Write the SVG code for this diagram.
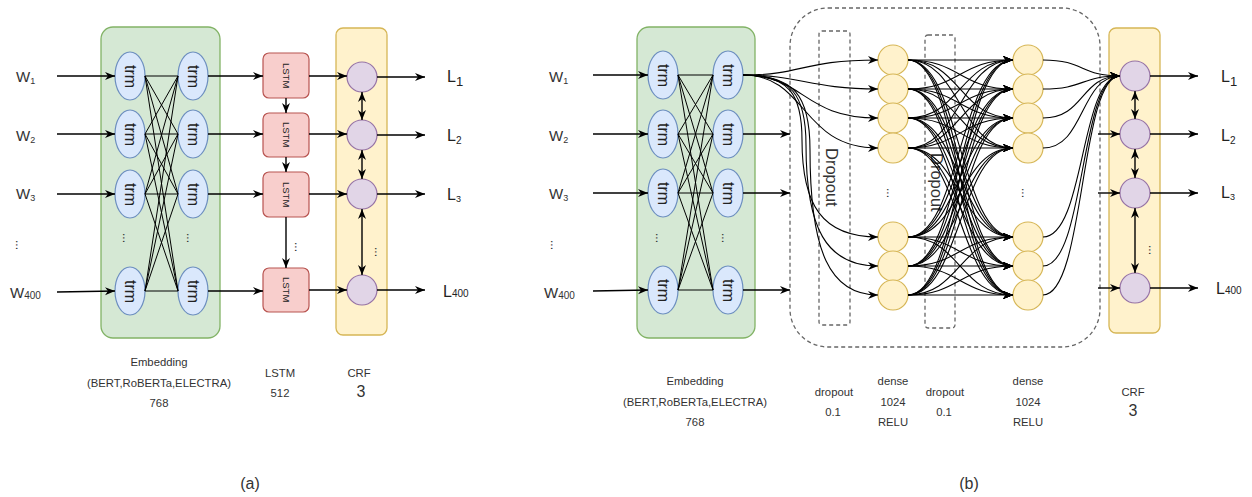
<svg xmlns="http://www.w3.org/2000/svg" width="1252" height="497" viewBox="0 0 1252 497">
<defs>
<marker id="ah" markerUnits="userSpaceOnUse" markerWidth="11" markerHeight="9" refX="10" refY="4" orient="auto-start-reverse">
<path d="M0,0 L10,4 L0,8 L3,4 z" fill="#000"/>
</marker>
<style>
text{font-family:"Liberation Sans",Arial,sans-serif;fill:#333}
.emb{fill:#d5e8d4;stroke:#82b366;stroke-width:1.3}
.trm{fill:#dae8fc;stroke:#6c8ebf;stroke-width:1.2}
.lstm{fill:#f8cecc;stroke:#b85450;stroke-width:1.2}
.crfbox{fill:#fff2cc;stroke:#d6b656;stroke-width:1.3}
.crf{fill:#e1d5e7;stroke:#9673a6;stroke-width:1.2}
.dn{fill:#fff2cc;stroke:#d6b656;stroke-width:1.2}
.dash{fill:none;stroke:#666;stroke-width:1.3;stroke-dasharray:4 3}
.a{fill:none;stroke:#000;stroke-width:1.4;marker-end:url(#ah)}
.b{fill:none;stroke:#000;stroke-width:1.4;marker-start:url(#ah);marker-end:url(#ah)}
.x{fill:none;stroke:#000;stroke-width:1}
.c{fill:none;stroke:#000;stroke-width:1.1;marker-end:url(#ah)}
.tt{font-size:16px;fill:#222}
.lt{font-size:9.5px;fill:#222}
.w{font-size:15px}
.l{font-size:16px;fill:#222}
.lab{font-size:11.3px;text-anchor:middle}
.big{font-size:16px;text-anchor:middle}
.dots{font-size:12px;fill:#333}
.drop{font-size:16.5px;fill:#333}
</style>
</defs>

<!-- ============ Panel (a) ============ -->
<g id="a-inputs">
<text class="w" x="16" y="82">W<tspan font-size="9" dy="2">1</tspan></text>
<text class="w" x="16" y="141">W<tspan font-size="9" dy="2">2</tspan></text>
<text class="w" x="16" y="199">W<tspan font-size="9" dy="2">3</tspan></text>
<text class="dots" x="0" y="0" transform="translate(16,245) rotate(90)" text-anchor="middle">...</text>
<text class="w" x="10" y="298">W<tspan font-size="10" dy="1">400</tspan></text>
</g>

<g id="a-embedding">
<rect class="emb" x="101" y="27" width="119" height="311" rx="12"/>
<ellipse class="trm" cx="130" cy="76" rx="15" ry="24"/>
<ellipse class="trm" cx="130" cy="134" rx="15" ry="24"/>
<ellipse class="trm" cx="130" cy="194" rx="15" ry="24"/>
<ellipse class="trm" cx="130" cy="291" rx="15" ry="24"/>
<ellipse class="trm" cx="193" cy="76" rx="15" ry="24"/>
<ellipse class="trm" cx="193" cy="134" rx="15" ry="24"/>
<ellipse class="trm" cx="193" cy="194" rx="15" ry="24"/>
<ellipse class="trm" cx="193" cy="291" rx="15" ry="24"/>
<text class="tt" transform="translate(125,65) rotate(90)">trm</text>
<text class="tt" transform="translate(125,123) rotate(90)">trm</text>
<text class="tt" transform="translate(125,183) rotate(90)">trm</text>
<text class="tt" transform="translate(125,280) rotate(90)">trm</text>
<text class="tt" transform="translate(188,65) rotate(90)">trm</text>
<text class="tt" transform="translate(188,123) rotate(90)">trm</text>
<text class="tt" transform="translate(188,183) rotate(90)">trm</text>
<text class="tt" transform="translate(188,280) rotate(90)">trm</text>
<text class="dots" transform="translate(123,238) rotate(90)" text-anchor="middle">...</text>
<text class="dots" transform="translate(187,238) rotate(90)" text-anchor="middle">...</text>
</g>

<g id="a-lstm">
<rect class="lstm" x="263" y="53" width="46" height="45" rx="6"/>
<rect class="lstm" x="263" y="113" width="46" height="44" rx="6"/>
<rect class="lstm" x="263" y="172" width="46" height="45" rx="6"/>
<rect class="lstm" x="263" y="268" width="46" height="44" rx="6"/>
<text class="lt" transform="translate(283,63) rotate(90)">LSTM</text>
<text class="lt" transform="translate(283,122) rotate(90)">LSTM</text>
<text class="lt" transform="translate(283,182) rotate(90)">LSTM</text>
<text class="lt" transform="translate(283,277) rotate(90)">LSTM</text>
<text class="dots" transform="translate(295,247) rotate(90)" text-anchor="middle">...</text>
</g>

<g id="a-crf">
<rect class="crfbox" x="336" y="28" width="51" height="307" rx="7"/>
<circle class="crf" cx="362" cy="77" r="15"/>
<circle class="crf" cx="362" cy="135" r="15"/>
<circle class="crf" cx="362" cy="194" r="15"/>
<circle class="crf" cx="362" cy="290" r="15"/>
<text class="dots" transform="translate(375,252) rotate(90)" text-anchor="middle">...</text>
</g>

<g id="a-outputs">
<text class="l" x="447" y="82">L<tspan font-size="13" dy="4">1</tspan></text>
<text class="l" x="447" y="141">L<tspan font-size="10" dy="3">2</tspan></text>
<text class="l" x="447" y="200">L<tspan font-size="9" dy="2">3</tspan></text>
<text class="l" x="443" y="297">L<tspan font-size="10">400</tspan></text>
</g>

<g id="a-connectors">
<path class="a" d="M57,76 L115,76"/>
<path class="a" d="M57,134 L115,134"/>
<path class="a" d="M57,194 L115,194"/>
<path class="a" d="M57,292 L115,291"/>
<path class="x" d="M145,76 L178,76 M145,76 L178,134 M145,76 L178,194 M145,76 L178,291 M145,134 L178,76 M145,134 L178,134 M145,134 L178,194 M145,134 L178,291 M145,194 L178,76 M145,194 L178,134 M145,194 L178,194 M145,194 L178,291 M145,291 L178,76 M145,291 L178,134 M145,291 L178,194 M145,291 L178,291"/>
<path class="a" d="M208,76 L263,76"/>
<path class="a" d="M208,134 L263,134"/>
<path class="a" d="M208,194 L263,194"/>
<path class="a" d="M208,291 L263,291"/>
<path class="a" d="M286,98 L286,113"/>
<path class="a" d="M286,157 L286,172"/>
<path class="a" d="M286,217 L286,268"/>
<path class="a" d="M309,76 L347,76"/>
<path class="a" d="M309,134 L347,134"/>
<path class="a" d="M309,194 L347,194"/>
<path class="a" d="M309,290 L347,290"/>
<path class="b" d="M362,92 L362,120"/>
<path class="b" d="M362,150 L362,179"/>
<path class="b" d="M362,209 L362,275"/>
<path class="a" d="M377,77 L425,77"/>
<path class="a" d="M377,135 L425,135"/>
<path class="a" d="M377,194 L425,194"/>
<path class="a" d="M377,290 L425,290"/>
</g>

<g id="a-labels">
<text class="lab" x="159" y="366">Embedding</text>
<text class="lab" x="159" y="387">(BERT,RoBERTa,ELECTRA)</text>
<text class="lab" x="159" y="407">768</text>
<text class="lab" x="280" y="377">LSTM</text>
<text class="lab" x="280" y="397">512</text>
<text class="lab" x="359" y="377">CRF</text>
<text class="big" x="361" y="397">3</text>
<text class="big" x="250" y="489">(a)</text>
</g>

<!-- ============ Panel (b) ============ -->
<g id="b-inputs">
<text class="w" x="549" y="82">W<tspan font-size="9" dy="2">1</tspan></text>
<text class="w" x="549" y="141">W<tspan font-size="9" dy="2">2</tspan></text>
<text class="w" x="549" y="199">W<tspan font-size="9" dy="2">3</tspan></text>
<text class="dots" transform="translate(551,245) rotate(90)" text-anchor="middle">...</text>
<text class="w" x="544" y="298">W<tspan font-size="10" dy="1">400</tspan></text>
</g>

<g id="b-embedding">
<rect class="emb" x="637" y="27" width="118" height="311" rx="12"/>
<ellipse class="trm" cx="663" cy="75" rx="15" ry="24"/>
<ellipse class="trm" cx="663" cy="134" rx="15" ry="24"/>
<ellipse class="trm" cx="663" cy="193" rx="15" ry="24"/>
<ellipse class="trm" cx="663" cy="290" rx="15" ry="24"/>
<ellipse class="trm" cx="728" cy="75" rx="15" ry="24"/>
<ellipse class="trm" cx="728" cy="134" rx="15" ry="24"/>
<ellipse class="trm" cx="728" cy="193" rx="15" ry="24"/>
<ellipse class="trm" cx="728" cy="290" rx="15" ry="24"/>
<text class="tt" transform="translate(658,64) rotate(90)">trm</text>
<text class="tt" transform="translate(658,123) rotate(90)">trm</text>
<text class="tt" transform="translate(658,182) rotate(90)">trm</text>
<text class="tt" transform="translate(658,279) rotate(90)">trm</text>
<text class="tt" transform="translate(723,64) rotate(90)">trm</text>
<text class="tt" transform="translate(723,123) rotate(90)">trm</text>
<text class="tt" transform="translate(723,182) rotate(90)">trm</text>
<text class="tt" transform="translate(723,279) rotate(90)">trm</text>
<text class="dots" transform="translate(656,238) rotate(90)" text-anchor="middle">...</text>
<text class="dots" transform="translate(722,238) rotate(90)" text-anchor="middle">...</text>
</g>

<g id="b-dense-block">
<rect class="dash" x="790" y="8" width="310" height="339" rx="38"/>
</g>

<g id="b-dropout1">
<rect class="dash" x="819" y="31" width="31" height="294" rx="3"/>
<text class="drop" transform="translate(826,148) rotate(90)">Dropout</text>
</g>

<g id="b-dense1">
<circle class="dn" cx="893" cy="60" r="15"/>
<circle class="dn" cx="893" cy="89" r="15"/>
<circle class="dn" cx="893" cy="118" r="15"/>
<circle class="dn" cx="893" cy="148" r="15"/>
<circle class="dn" cx="893" cy="237" r="15"/>
<circle class="dn" cx="893" cy="266" r="15"/>
<circle class="dn" cx="893" cy="295" r="15"/>
<text class="dots" transform="translate(887,193) rotate(90)" text-anchor="middle">...</text>
</g>

<g id="b-dropout2">
<rect class="dash" x="925" y="35" width="30" height="293" rx="3"/>
<text class="drop" transform="translate(931,153) rotate(90)">Dropout</text>
</g>

<g id="b-dense2">
<circle class="dn" cx="1028" cy="60" r="15"/>
<circle class="dn" cx="1028" cy="89" r="15"/>
<circle class="dn" cx="1028" cy="118" r="15"/>
<circle class="dn" cx="1028" cy="148" r="15"/>
<circle class="dn" cx="1028" cy="237" r="15"/>
<circle class="dn" cx="1028" cy="266" r="15"/>
<circle class="dn" cx="1028" cy="295" r="15"/>
<text class="dots" transform="translate(1022,193) rotate(90)" text-anchor="middle">...</text>
</g>

<g id="b-crf">
<rect class="crfbox" x="1109" y="28" width="51" height="305" rx="7"/>
<circle class="crf" cx="1135" cy="76" r="15"/>
<circle class="crf" cx="1135" cy="134" r="15"/>
<circle class="crf" cx="1135" cy="193" r="15"/>
<circle class="crf" cx="1135" cy="288" r="15"/>
<text class="dots" transform="translate(1149,250) rotate(90)" text-anchor="middle">...</text>
</g>

<g id="b-outputs">
<text class="l" x="1221" y="82">L<tspan font-size="13" dy="4">1</tspan></text>
<text class="l" x="1221" y="141">L<tspan font-size="10" dy="3">2</tspan></text>
<text class="l" x="1221" y="198">L<tspan font-size="9" dy="2">3</tspan></text>
<text class="l" x="1216" y="294">L<tspan font-size="10">400</tspan></text>
</g>

<g id="b-connectors">
<path class="a" d="M593,75 L648,75"/>
<path class="a" d="M593,134 L648,134"/>
<path class="a" d="M593,193 L648,193"/>
<path class="a" d="M593,291 L648,290"/>
<path class="x" d="M678,75 L713,75 M678,75 L713,134 M678,75 L713,193 M678,75 L713,290 M678,134 L713,75 M678,134 L713,134 M678,134 L713,193 M678,134 L713,290 M678,193 L713,75 M678,193 L713,134 M678,193 L713,193 M678,193 L713,290 M678,290 L713,75 M678,290 L713,134 M678,290 L713,193 M678,290 L713,290"/>
<path class="a" d="M743,134 L790,134"/>
<path class="a" d="M743,193 L790,193"/>
<path class="a" d="M743,290 L790,290"/>
<path class="c" d="M743,75 C805,75 800,60 878,60"/>
<path class="c" d="M743,75 C800,75 810,89 878,89"/>
<path class="c" d="M743,75 C805,75 802,118 878,118"/>
<path class="c" d="M743,75 C808,75 800,148 878,148"/>
<path class="c" d="M743,75 C790,75 802,95 802,140 C802,205 822,237 878,237"/>
<path class="c" d="M743,75 C792,75 806,95 806,145 C806,228 826,266 878,266"/>
<path class="c" d="M743,75 C794,75 810,95 810,150 C810,252 830,295 878,295"/>
<path class="c" d="M908,60 C960,60 960,60 1013,60"/>
<path class="c" d="M908,60 C960,60 960,89 1013,89"/>
<path class="c" d="M908,60 C960,60 960,118 1013,118"/>
<path class="c" d="M908,60 C960,60 960,148 1013,148"/>
<path class="c" d="M908,60 C960,60 960,237 1013,237"/>
<path class="c" d="M908,60 C960,60 960,266 1013,266"/>
<path class="c" d="M908,60 C960,60 960,295 1013,295"/>
<path class="c" d="M908,89 C960,89 960,60 1013,60"/>
<path class="c" d="M908,89 C960,89 960,89 1013,89"/>
<path class="c" d="M908,89 C960,89 960,118 1013,118"/>
<path class="c" d="M908,89 C960,89 960,148 1013,148"/>
<path class="c" d="M908,89 C960,89 960,237 1013,237"/>
<path class="c" d="M908,89 C960,89 960,266 1013,266"/>
<path class="c" d="M908,89 C960,89 960,295 1013,295"/>
<path class="c" d="M908,118 C960,118 960,60 1013,60"/>
<path class="c" d="M908,118 C960,118 960,89 1013,89"/>
<path class="c" d="M908,118 C960,118 960,118 1013,118"/>
<path class="c" d="M908,118 C960,118 960,148 1013,148"/>
<path class="c" d="M908,118 C960,118 960,237 1013,237"/>
<path class="c" d="M908,118 C960,118 960,266 1013,266"/>
<path class="c" d="M908,118 C960,118 960,295 1013,295"/>
<path class="c" d="M908,148 C960,148 960,60 1013,60"/>
<path class="c" d="M908,148 C960,148 960,89 1013,89"/>
<path class="c" d="M908,148 C960,148 960,118 1013,118"/>
<path class="c" d="M908,148 C960,148 960,148 1013,148"/>
<path class="c" d="M908,148 C960,148 960,237 1013,237"/>
<path class="c" d="M908,148 C960,148 960,266 1013,266"/>
<path class="c" d="M908,148 C960,148 960,295 1013,295"/>
<path class="c" d="M908,237 C960,237 960,60 1013,60"/>
<path class="c" d="M908,237 C960,237 960,89 1013,89"/>
<path class="c" d="M908,237 C960,237 960,118 1013,118"/>
<path class="c" d="M908,237 C960,237 960,148 1013,148"/>
<path class="c" d="M908,237 C960,237 960,237 1013,237"/>
<path class="c" d="M908,237 C960,237 960,266 1013,266"/>
<path class="c" d="M908,237 C960,237 960,295 1013,295"/>
<path class="c" d="M908,266 C960,266 960,60 1013,60"/>
<path class="c" d="M908,266 C960,266 960,89 1013,89"/>
<path class="c" d="M908,266 C960,266 960,118 1013,118"/>
<path class="c" d="M908,266 C960,266 960,148 1013,148"/>
<path class="c" d="M908,266 C960,266 960,237 1013,237"/>
<path class="c" d="M908,266 C960,266 960,266 1013,266"/>
<path class="c" d="M908,266 C960,266 960,295 1013,295"/>
<path class="c" d="M908,295 C960,295 960,60 1013,60"/>
<path class="c" d="M908,295 C960,295 960,89 1013,89"/>
<path class="c" d="M908,295 C960,295 960,118 1013,118"/>
<path class="c" d="M908,295 C960,295 960,148 1013,148"/>
<path class="c" d="M908,295 C960,295 960,237 1013,237"/>
<path class="c" d="M908,295 C960,295 960,266 1013,266"/>
<path class="c" d="M908,295 C960,295 960,295 1013,295"/>
<path class="c" d="M1043,60 C1085,60 1080,76 1120,76"/>
<path class="c" d="M1043,89 C1085,89 1080,76 1120,76"/>
<path class="c" d="M1043,118 C1085,118 1080,76 1120,76"/>
<path class="c" d="M1043,148 C1085,148 1080,76 1120,76"/>
<path class="c" d="M1043,237 C1085,237 1080,76 1120,76"/>
<path class="c" d="M1043,266 C1085,266 1080,76 1120,76"/>
<path class="c" d="M1043,295 C1085,295 1080,76 1120,76"/>
<path class="a" d="M1098,134 L1120,134"/>
<path class="a" d="M1098,193 L1120,193"/>
<path class="a" d="M1098,288 L1120,288"/>
<path class="b" d="M1135,91 L1135,119"/>
<path class="b" d="M1135,149 L1135,178"/>
<path class="b" d="M1135,208 L1135,273"/>
<path class="a" d="M1150,76 L1198,76"/>
<path class="a" d="M1150,134 L1198,134"/>
<path class="a" d="M1150,193 L1198,193"/>
<path class="a" d="M1150,288 L1198,288"/>
</g>

<g id="b-labels">
<text class="lab" x="695" y="385">Embedding</text>
<text class="lab" x="695" y="406">(BERT,RoBERTa,ELECTRA)</text>
<text class="lab" x="695" y="426">768</text>
<text class="lab" x="834" y="396">dropout</text>
<text class="lab" x="833" y="416">0.1</text>
<text class="lab" x="893" y="385">dense</text>
<text class="lab" x="893" y="406">1024</text>
<text class="lab" x="893" y="426">RELU</text>
<text class="lab" x="945" y="396">dropout</text>
<text class="lab" x="944" y="416">0.1</text>
<text class="lab" x="1028" y="385">dense</text>
<text class="lab" x="1028" y="406">1024</text>
<text class="lab" x="1028" y="426">RELU</text>
<text class="lab" x="1133" y="396">CRF</text>
<text class="big" x="1133" y="416">3</text>
<text class="big" x="969" y="489">(b)</text>
</g>
</svg>
